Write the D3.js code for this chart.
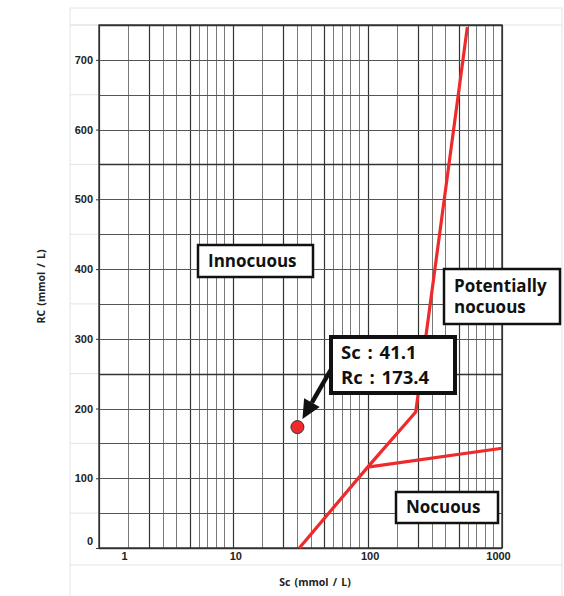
<!DOCTYPE html>
<html lang="en">
<head>
    <meta charset="UTF-8">
    <title>Sc / Rc diagram</title>
    <script src="https://d3js.org/d3.v7.min.js"></script>
    <style>
        body { margin: 0; background: #fff; }
        svg { display: block; font-family: "Open Sans", "DejaVu Sans", sans-serif; }
        .tick-label { font-size: 11px; font-weight: 700; fill: #222; }
        .axis-title { font-size: 10.5px; font-weight: 700; fill: #222; word-spacing: 1.5px; }
        .zone-text { font-size: 17px; font-weight: 700; fill: #111; }
        .note-text { font-size: 18.5px; font-weight: 700; fill: #111; word-spacing: 2px; }
    </style>
</head>
<body>
<div id="chart"></div>
<script>
    // axis ticks
    const xTicks = [1, 10, 100, 1000];
    const yTicks = [0, 100, 200, 300, 400, 500, 600, 700];

    // log paper background: lines inside each decade (multipliers of the decade start)
    const paperDecades = [1, 10, 100];
    const paperSteps = [1, 1.644, 2.357, 2.996, 3.77, 4.76, 5.555, 6.4, 7.45, 8.55];
    const paperMajorSteps = [1, 2.357, 4.76];
    const paperRc = d3.range(0, 751, 50);
    const paperRcMajor = [0, 250, 550, 750];

    // boundary curves (Sc, Rc)
    const boundaryUpper = [[31, 0], [100, 116], [228, 195], [552, 747]];
    const boundaryLower = [[100, 116], [1000, 143]];

    // sample point as it sits on the chart, and its label
    const sampleSc = 30;
    const sampleRc = 173.4;
    const sampleLabel = ["Sc : 41.1", "Rc : 173.4"];

    const W = 564, H = 596;
    const plot = {left: 99, right: 502, top: 25, bottom: 548};

    const svg = d3.select("#chart").append("svg")
        .attr("width", W)
        .attr("height", H);

    const x = d3.scaleLog().domain([1, 1000]).range([plot.left, plot.right]);
    const y = d3.scaleLinear().domain([0, 750]).range([plot.bottom, plot.top]);

    // outer light frame
    const frame = svg.append("g").attr("stroke", "#e4e4e4").attr("fill", "none");
    frame.append("line").attr("x1", 70).attr("x2", 70).attr("y1", 8).attr("y2", H);
    frame.append("line").attr("x1", 562).attr("x2", 562).attr("y1", 8).attr("y2", H);
    frame.append("line").attr("x1", 70).attr("x2", 562).attr("y1", 8).attr("y2", 8);
    frame.append("line").attr("x1", 70).attr("x2", 562).attr("y1", 565).attr("y2", 565);
    frame.append("line").attr("x1", 70).attr("x2", 562).attr("y1", y(750)).attr("y2", y(750));
    // light lines in left margin between ticks
    frame.selectAll(".mid")
        .data(d3.range(50, 751, 100))
        .enter().append("line")
        .attr("x1", 70).attr("x2", plot.left)
        .attr("y1", d => y(d)).attr("y2", d => y(d));

    // log paper grid
    const paperX = [];
    paperDecades.forEach(dec => paperSteps.forEach(s => paperX.push({v: dec * s, major: paperMajorSteps.includes(s)})));
    paperX.push({v: 1000, major: true});

    const grid = svg.append("g");
    grid.selectAll(".vline")
        .data(paperX)
        .enter().append("line")
        .attr("x1", d => Math.round(x(d.v)) + 0.5)
        .attr("x2", d => Math.round(x(d.v)) + 0.5)
        .attr("y1", plot.top)
        .attr("y2", plot.bottom)
        .attr("stroke", d => d.major ? "#333" : "#7a7a7a")
        .attr("stroke-width", d => d.major ? 1.2 : 1);

    grid.selectAll(".hline")
        .data(paperRc)
        .enter().append("line")
        .attr("x1", plot.left)
        .attr("x2", plot.right)
        .attr("y1", d => Math.round(y(d)) + 0.5)
        .attr("y2", d => Math.round(y(d)) + 0.5)
        .attr("stroke", d => paperRcMajor.includes(d) ? "#333" : "#555")
        .attr("stroke-width", d => paperRcMajor.includes(d) ? 1.5 : 1);

    grid.append("rect")
        .attr("x", plot.left).attr("y", plot.top)
        .attr("width", plot.right - plot.left)
        .attr("height", plot.bottom - plot.top)
        .attr("fill", "none")
        .attr("stroke", "#333")
        .attr("stroke-width", 1.4);

    // y axis
    const yAxis = svg.append("g")
        .attr("transform", `translate(${plot.left},0)`)
        .call(d3.axisLeft(y).tickValues(yTicks).tickSize(3).tickPadding(3));
    yAxis.select(".domain").remove();
    yAxis.selectAll("line").attr("stroke", "#333");
    yAxis.selectAll("text").attr("class", "tick-label").attr("font-family", null).attr("font-size", null)
        .attr("dy", d => d === 0 ? "-0.3em" : "0.32em");

    // x axis
    const xAxis = svg.append("g")
        .attr("transform", `translate(0,${plot.bottom})`)
        .call(d3.axisBottom(x).tickValues(xTicks).tickFormat(d3.format("d")).tickSize(0).tickPadding(4));
    xAxis.select(".domain").remove();
    xAxis.selectAll("text").attr("class", "tick-label").attr("font-family", null).attr("font-size", null)
        .attr("dx", d => d === 1 ? 25 : (d === 1000 ? -4 : 2));

    // axis titles
    svg.append("text")
        .attr("class", "axis-title")
        .attr("text-anchor", "middle")
        .attr("x", 315)
        .attr("y", 586)
        .text("Sc (mmol / L)");
    svg.append("text")
        .attr("class", "axis-title")
        .attr("text-anchor", "middle")
        .attr("transform", `translate(45,${(plot.top + plot.bottom) / 2}) rotate(-90)`)
        .text("RC (mmol / L)");

    // boundary curves
    const line = d3.line().x(d => x(d[0])).y(d => y(d[1]));
    [boundaryUpper, boundaryLower].forEach(pts => {
        svg.append("path")
            .datum(pts)
            .attr("d", line)
            .attr("fill", "none")
            .attr("stroke", "#ee2a2a")
            .attr("stroke-width", 3.2)
            .attr("stroke-linejoin", "round");
    });

    // zone labels
    function labelBox(x0, y0, w, h, lines, cls, lineH, strokeW) {
        const g = svg.append("g");
        g.append("rect")
            .attr("x", x0).attr("y", y0).attr("width", w).attr("height", h)
            .attr("fill", "#fff").attr("stroke", "#111").attr("stroke-width", strokeW);
        lines.forEach((t, i) => {
            g.append("text")
                .attr("class", cls)
                .attr("x", x0 + 10)
                .attr("y", y0 + h / 2 + (i - (lines.length - 1) / 2) * lineH)
                .attr("dy", "0.35em")
                .text(t);
        });
    }
    labelBox(198, 245, 115, 32, ["Innocuous"], "zone-text", 21, 2.5);
    labelBox(444, 269, 116, 55, ["Potentially", "nocuous"], "zone-text", 21, 2.5);
    labelBox(396, 492, 102, 31, ["Nocuous"], "zone-text", 21, 2.5);

    // sample point
    const px = x(sampleSc), py = y(sampleRc);

    // arrow from note to point
    const tip = [px + 5, py - 8];
    const tail = [333, 366];
    const ang = Math.atan2(tip[1] - tail[1], tip[0] - tail[0]);
    const headLen = 19, headW = 9;
    const base = [tip[0] - headLen * Math.cos(ang), tip[1] - headLen * Math.sin(ang)];
    svg.append("line")
        .attr("x1", tail[0]).attr("y1", tail[1])
        .attr("x2", base[0]).attr("y2", base[1])
        .attr("stroke", "#111").attr("stroke-width", 4.5);
    svg.append("path")
        .attr("d", `M${tip[0]},${tip[1]} L${base[0] + headW * Math.sin(ang)},${base[1] - headW * Math.cos(ang)} L${base[0] - headW * Math.sin(ang)},${base[1] + headW * Math.cos(ang)} Z`)
        .attr("fill", "#111");

    labelBox(331, 337, 124, 56, sampleLabel, "note-text", 25, 4);

    svg.append("circle")
        .attr("cx", px).attr("cy", py).attr("r", 6.5)
        .attr("fill", "#ee2a2a")
        .attr("stroke", "#333")
        .attr("stroke-width", 1);
</script>
</body>
</html>
